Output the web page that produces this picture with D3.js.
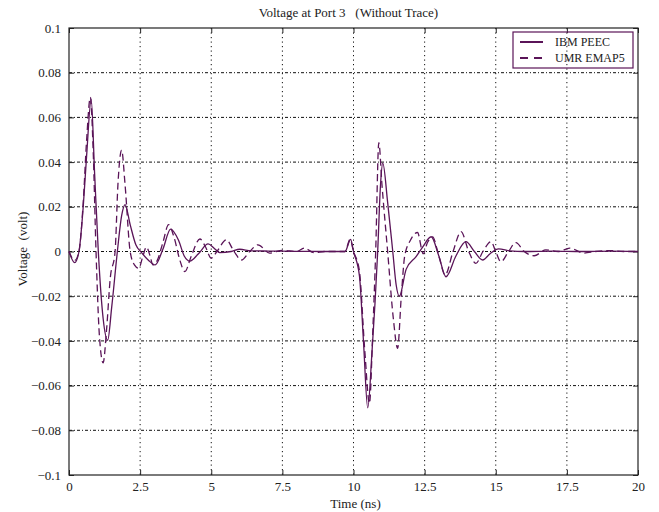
<!DOCTYPE html>
<html>
<head>
<meta charset="utf-8">
<script src="https://cdn.jsdelivr.net/npm/d3@7"></script>
<style>
  body { margin: 0; background: #fff; }
  text { font-family: "Liberation Serif", "Times New Roman", serif; fill: #222; }
</style>
</head>
<body>
<div id="chart"></div>
<script>
// values (time in ns, voltage in volt)
var ibmTime = [0, 0.2, 0.35, 0.5, 0.62, 0.78, 0.9, 1.03, 1.2, 1.36, 1.5, 1.7, 1.85, 1.97, 2.15, 2.35, 2.55, 2.8, 3.03, 3.3, 3.57, 3.85, 4.05, 4.25, 4.55, 4.89, 5.1, 5.3, 5.7, 6.0, 6.4, 7.0, 8.0, 9.0, 9.7, 9.9, 10.0, 10.21, 10.35, 10.5, 10.65, 10.85, 10.95, 11.03, 11.2, 11.38, 11.5, 11.61, 11.85, 12.2, 12.43, 12.73, 13.0, 13.25, 13.6, 13.95, 14.25, 14.54, 14.8, 15.1, 15.5, 16, 17, 18, 19, 20];
var ibmVolt = [0, -0.005, 0, 0.02, 0.043, 0.068, 0.035, 0, -0.03, -0.0397, -0.025, 0, 0.016, 0.021, 0.012, 0.003, -0.0005, -0.004, -0.006, 0.001, 0.010, 0.005, -0.002, -0.0043, -0.001, 0.0034, 0.0015, -0.0005, 0, 0.001, 0.0003, 0.0002, 0.0001, 0, 0, 0.0054, 0, -0.011, -0.04, -0.070, -0.045, 0, 0.03, 0.0395, 0.022, 0, -0.015, -0.020, -0.008, -0.0023, 0.002, 0.0066, -0.002, -0.0113, -0.002, 0.0044, 0, -0.0038, -0.001, 0.0012, 0.0003, 0, 0.0002, 0, 0.0002, 0];

var umrTime = [0, 0.2, 0.35, 0.5, 0.62, 0.75, 0.85, 0.95, 1.07, 1.2, 1.32, 1.45, 1.62, 1.72, 1.85, 1.97, 2.15, 2.3, 2.45, 2.6, 2.72, 2.85, 2.95, 3.1, 3.3, 3.5, 3.7, 3.9, 4.07, 4.3, 4.6, 4.8, 5.0, 5.2, 5.53, 5.8, 6.06, 6.35, 6.64, 7.05, 7.5, 8.0, 8.28, 8.6, 9.0, 9.7, 9.88, 10.0, 10.2, 10.4, 10.56, 10.68, 10.78, 10.89, 11.0, 11.2, 11.4, 11.55, 11.68, 11.8, 12.0, 12.25, 12.45, 12.6, 12.78, 13.0, 13.22, 13.5, 13.78, 14.05, 14.3, 14.55, 14.83, 15.0, 15.18, 15.45, 15.71, 16.0, 16.35, 16.76, 17.2, 17.6, 18.1, 18.5, 19.0, 19.5, 20];
var umrVolt = [0, -0.004, 0, 0.022, 0.05, 0.069, 0.045, 0, -0.038, -0.0498, -0.035, -0.012, 0, 0.03, 0.0454, 0.03, 0, -0.006, -0.0075, -0.002, 0.002, -0.002, -0.006, -0.004, 0.004, 0.012, 0.006, -0.004, -0.009, -0.002, 0.0056, 0.002, -0.003, 0, 0.0052, 0, -0.0038, 0, 0.003, -0.0007, 0.0005, 0, 0.0015, -0.0005, 0, 0, 0.0054, 0, -0.008, -0.045, -0.068, -0.035, 0, 0.0487, 0.03, 0, -0.03, -0.0433, -0.02, -0.002, 0.005, 0.0085, -0.001, 0.004, 0.0065, -0.002, -0.0105, 0, 0.0089, 0, -0.0053, 0, 0.0044, 0, -0.0046, 0, 0.004, 0, -0.0019, 0.0007, 0, 0.0015, -0.0007, 0, 0.0004, 0, 0];

var xTicks = [0, 2.5, 5, 7.5, 10, 12.5, 15, 17.5, 20];
var yTicks = [-0.1, -0.08, -0.06, -0.04, -0.02, 0, 0.02, 0.04, 0.06, 0.08, 0.1];
var seriesNames = ["IBM PEEC", "UMR EMAP5"];

var svgWidth = 659;
var svgHeight = 512;
var margin = { top: 28, right: 21, bottom: 37, left: 69 };
var width = svgWidth - margin.left - margin.right;
var height = svgHeight - margin.top - margin.bottom;
var lineColor = "#5a1458";

var svg = d3.select("#chart")
  .append("svg")
  .attr("width", svgWidth)
  .attr("height", svgHeight);

var chartGroup = svg.append("g")
  .attr("transform", `translate(${margin.left}, ${margin.top})`);

var xScale = d3.scaleLinear().domain([0, 20]).range([0, width]);
var yScale = d3.scaleLinear().domain([-0.1, 0.1]).range([height, 0]);

// grid
chartGroup.append("g")
  .selectAll("line")
  .data(xTicks.slice(1, -1))
  .enter()
  .append("line")
  .attr("x1", d => xScale(d)).attr("x2", d => xScale(d))
  .attr("y1", 0).attr("y2", height)
  .attr("stroke", "#111")
  .attr("stroke-width", 1)
  .attr("stroke-dasharray", "1.2,3.3");

chartGroup.append("g")
  .selectAll("line")
  .data(yTicks.slice(1, -1))
  .enter()
  .append("line")
  .attr("y1", d => yScale(d)).attr("y2", d => yScale(d))
  .attr("x1", 0).attr("x2", width)
  .attr("stroke", "#111")
  .attr("stroke-width", 1)
  .attr("stroke-dasharray", "3,2,1,2");

// axes with inward ticks
var fmtY = d => d === 0 ? "0" : d3.format("")(+d.toFixed(2));
chartGroup.append("g")
  .attr("transform", `translate(0, ${height})`)
  .call(d3.axisBottom(xScale).tickValues(xTicks).tickSize(-5).tickPadding(7).tickFormat(d => String(d)))
  .call(g => g.select(".domain").remove());
chartGroup.append("g")
  .call(d3.axisLeft(yScale).tickValues(yTicks).tickSize(-5).tickPadding(8).tickFormat(fmtY))
  .call(g => g.select(".domain").remove());
chartGroup.append("g")
  .call(d3.axisTop(xScale).tickValues(xTicks).tickSize(-5).tickFormat(""))
  .call(g => g.select(".domain").remove());
chartGroup.append("g")
  .attr("transform", `translate(${width}, 0)`)
  .call(d3.axisRight(yScale).tickValues(yTicks).tickSize(-5).tickFormat(""))
  .call(g => g.select(".domain").remove());

chartGroup.selectAll(".tick line").attr("stroke", "#222");
chartGroup.selectAll(".tick text")
  .attr("font-family", "Liberation Serif, serif")
  .attr("font-size", "13px")
  .attr("fill", "#222");

// frame
chartGroup.append("rect")
  .attr("width", width)
  .attr("height", height)
  .attr("fill", "none")
  .attr("stroke", "#222")
  .attr("stroke-width", 1.2);

// lines
var line = d3.line()
  .x(d => xScale(d[0]))
  .y(d => yScale(d[1]))
  .curve(d3.curveMonotoneX);

chartGroup.append("path")
  .datum(ibmTime.map((t, i) => [t, ibmVolt[i]]))
  .attr("d", line)
  .attr("fill", "none")
  .attr("stroke", lineColor)
  .attr("stroke-width", 1.3);

chartGroup.append("path")
  .datum(umrTime.map((t, i) => [t, umrVolt[i]]))
  .attr("d", line)
  .attr("fill", "none")
  .attr("stroke", lineColor)
  .attr("stroke-width", 1.3)
  .attr("stroke-dasharray", "7,4");

// legend
var legend = chartGroup.append("g")
  .attr("transform", `translate(${width - 125}, 4)`);
legend.append("rect")
  .attr("width", 120)
  .attr("height", 36)
  .attr("fill", "none")
  .attr("stroke", lineColor)
  .attr("stroke-width", 1.2);
seriesNames.forEach(function(name, i) {
  legend.append("line")
    .attr("x1", 7).attr("x2", 30)
    .attr("y1", 10 + i * 16).attr("y2", 10 + i * 16)
    .attr("stroke", lineColor)
    .attr("stroke-width", 2)
    .attr("stroke-dasharray", i === 1 ? "8,6" : null);
  legend.append("text")
    .attr("x", 42)
    .attr("y", 14 + i * 16)
    .attr("font-size", "12px")
    .text(name);
});

// labels
svg.append("text")
  .attr("x", margin.left + width / 2 - 5)
  .attr("y", 17)
  .attr("text-anchor", "middle")
  .attr("font-size", "13px")
  .attr("xml:space", "preserve")
  .text("Voltage at Port 3   (Without Trace)");

svg.append("text")
  .attr("x", margin.left + width / 2 + 2)
  .attr("y", 508)
  .attr("text-anchor", "middle")
  .attr("font-size", "13px")
  .text("Time (ns)");

svg.append("text")
  .attr("transform", "translate(27, 249) rotate(-90)")
  .attr("text-anchor", "middle")
  .attr("font-size", "13px")
  .attr("xml:space", "preserve")
  .text("Voltage  (volt)");
</script>
</body>
</html>
